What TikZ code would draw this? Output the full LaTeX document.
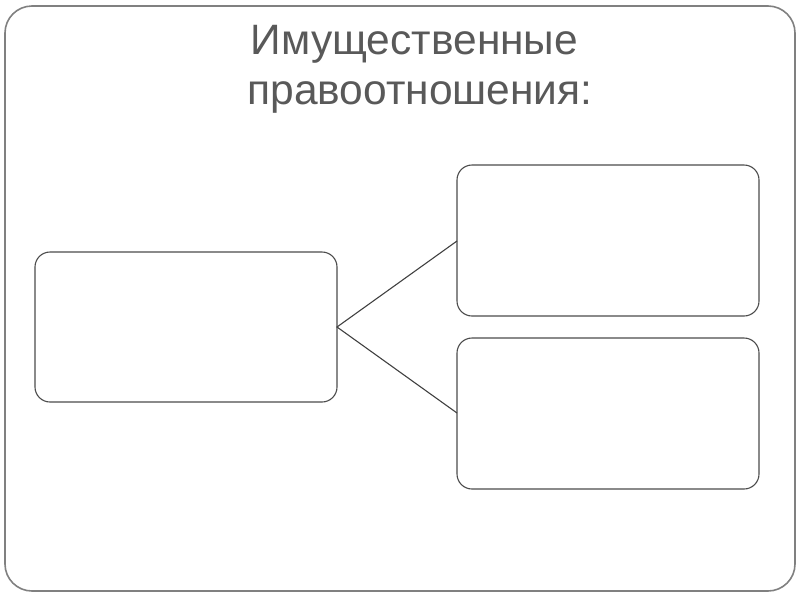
\documentclass[tikz,border=0pt]{standalone}
\usepackage{fontspec}
\setmainfont{Liberation Sans}
\begin{document}
\begin{tikzpicture}[x=1pt,y=-1pt,
  frame/.style={draw=black!50,line width=1.6pt,rounded corners=27pt},
  box/.style={draw=black!70,line width=1.1pt,rounded corners=15pt,fill=white},
  conn/.style={draw=black!75,line width=1.1pt},
  title/.style={text=black!65,font=\fontsize{42.5}{51}\selectfont,anchor=base,inner sep=0pt}]
\useasboundingbox (0,0) rectangle (800,600);
\draw[frame] (5,6) rectangle (795,591);
\node[title] (t1) at (414.5,54) {Имущественные};
\node[title] (t2) at (420,104) {правоотношения:};
\draw[box] (35,252) rectangle (337,402);
\draw[box] (457,165) rectangle (759,316);
\draw[box] (457,338) rectangle (759,489);
\coordinate (L) at (337,327);
\coordinate (A) at (457,241);
\coordinate (B) at (457,413);
\draw[conn] (A) -- (L) -- (B);
\end{tikzpicture}
\end{document}
